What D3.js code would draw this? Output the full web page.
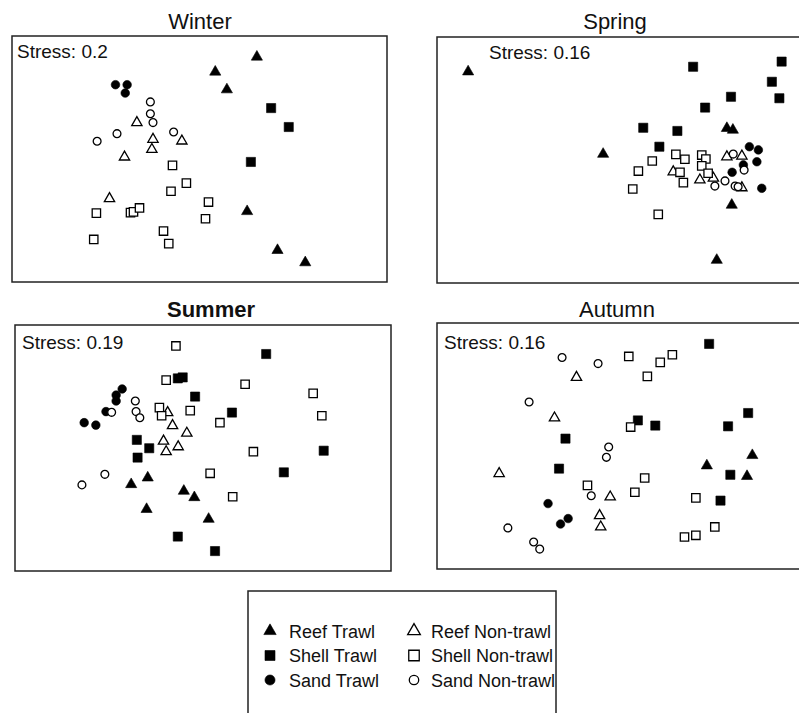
<!DOCTYPE html>
<html>
<head>
<meta charset="utf-8">
<script src="https://cdn.jsdelivr.net/npm/d3@7"></script>
<style>
  html, body { margin: 0; padding: 0; background: #fff; }
  svg { display: block; }
  text { font-family: "Liberation Sans", Arial, Helvetica, sans-serif; fill: #111; }
</style>
</head>
<body>
<svg id="chart" width="799" height="713"></svg>
<script>
// ---------------- DATA (NMDS coordinates, 0-100 scale per panel) ----------------
const groups = ["Reef Trawl", "Shell Trawl", "Sand Trawl", "Reef Non-trawl", "Shell Non-trawl", "Sand Non-trawl"];
const seasons = ["Winter", "Spring", "Summer", "Autumn"];
const stressValues = [0.2, 0.16, 0.19, 0.16];

// [groupIndex, x, y]
const winterPoints = [
  [0,65.3,91.5],[0,54.2,85.4],[0,57.3,78.2],[0,62.7,28.7],[0,70.8,12.9],[0,78.2,7.9],
  [1,69.1,70.7],[1,73.8,63.0],[1,63.7,48.8],
  [2,27.6,80.2],[2,30.7,80.2],[2,30.2,76.8],
  [3,33.3,64.8],[3,37.6,58.0],[3,37.3,53.9],[3,45.3,57.3],[3,30.0,50.8],[3,26.0,33.9],
  [4,42.8,47.4],[4,46.5,40.2],[4,42.4,36.9],[4,52.4,32.5],[4,51.6,25.7],[4,22.5,28.0],
  [4,31.6,28.2],[4,32.4,28.5],[4,34.0,30.1],[4,40.4,20.7],[4,41.8,15.6],[4,21.8,17.3],
  [5,36.9,73.2],[5,36.9,68.4],[5,37.6,64.8],[5,43.1,61.0],[5,28.0,60.3],[5,22.7,57.2]
];
const springPoints = [
  [0,8.3,85.9],[0,44.3,52.4],[0,77.3,62.9],[0,78.9,62.2],[0,78.6,31.7],[0,74.6,9.3],
  [1,68.3,87.9],[1,91.9,90.0],[1,89.3,81.8],[1,91.3,75.1],[1,78.4,75.7],[1,71.5,71.3],
  [1,55.0,63.1],[1,64.1,61.8],[1,59.3,55.4],
  [2,83.3,55.4],[2,85.7,54.1],[2,81.7,48.0],[2,85.3,49.3],[2,78.7,45.0],[2,86.6,38.5],
  [3,77.3,51.3],[3,81.3,51.6],[3,63.0,45.2],[3,70.1,41.9],[3,73.7,42.6],[3,81.3,38.7],
  [4,63.7,52.3],[4,66.1,50.3],[4,70.6,52.0],[4,71.7,50.4],[4,57.4,49.6],[4,70.6,47.6],
  [4,53.7,45.5],[4,64.8,45.0],[4,72.3,44.6],[4,65.7,40.8],[4,52.2,38.2],[4,59.0,27.9],
  [5,79.0,52.4],[5,81.9,45.9],[5,76.8,41.5],[5,74.1,39.4],[5,79.5,39.4],[5,80.3,39.1]
];
const summerPoints = [
  [0,30.9,35.2],[0,35.3,37.9],[0,44.9,32.5],[0,47.7,29.9],[0,35.0,25.1],[0,51.5,21.1],
  [1,66.8,88.2],[1,43.3,78.3],[1,44.6,78.7],[1,47.9,70.9],[1,57.7,64.4],[1,32.4,53.3],
  [1,35.7,49.9],[1,32.6,46.1],[1,82.1,48.9],[1,71.5,40.1],[1,43.3,14.0],[1,53.2,8.1],
  [2,28.5,74.0],[2,26.9,71.5],[2,26.9,69.1],[2,24.2,64.8],[2,18.4,60.3],[2,21.5,59.3],
  [3,40.6,64.4],[3,41.9,59.1],[3,45.7,56.0],[3,39.5,52.8],[3,43.4,50.5],[3,40.2,48.5],
  [4,42.8,91.5],[4,40.2,77.6],[4,61.2,75.9],[4,79.3,72.2],[4,81.6,63.1],[4,38.4,66.4],
  [4,39.0,63.1],[4,46.6,65.2],[4,54.5,60.3],[4,63.4,48.5],[4,51.9,39.7],[4,57.9,30.2],
  [5,32.0,69.1],[5,25.7,64.5],[5,32.2,64.8],[5,33.2,62.3],[5,23.9,39.3],[5,17.8,35.0]
];
const autumnPoints = [
  [0,71.2,42.0],[0,83.2,46.2],[0,81.8,37.7],
  [1,71.8,91.5],[1,82.1,63.4],[1,76.8,58.0],[1,53.0,60.4],[1,57.6,58.3],[1,33.9,53.0],
  [1,32.2,40.8],[1,77.4,38.3],[1,74.8,27.8],
  [2,29.3,26.6],[2,34.6,20.5],[2,32.6,18.3],
  [3,36.8,77.9],[3,31.0,61.4],[3,16.4,38.8],[3,45.7,29.3],[3,42.9,21.7],[3,43.2,17.1],
  [4,50.6,86.4],[4,58.9,84.0],[4,62.1,87.1],[4,55.5,78.3],[4,51.1,57.7],[4,54.8,37.0],
  [4,39.7,34.0],[4,52.2,31.2],[4,68.3,28.9],[4,73.3,17.1],[4,68.3,13.7],[4,65.3,13.0],
  [5,33.0,86.0],[5,42.5,83.5],[5,24.3,67.9],[5,45.3,49.6],[5,44.7,45.4],[5,40.7,29.8],
  [5,18.7,16.7],[5,25.5,11.0],[5,27.1,8.1]
];
const seasonPoints = [winterPoints, springPoints, summerPoints, autumnPoints];

// ---------------- LAYOUT ----------------
const panels = [
  {x0: 12,  x1: 387, y0: 36,  y1: 282, tx: 200, ty: 29,  sx: 17,  sy: 58,  bold: false},
  {x0: 437, x1: 812, y0: 37,  y1: 283, tx: 615, ty: 29,  sx: 489, sy: 59,  bold: false},
  {x0: 15,  x1: 391, y0: 325, y1: 571, tx: 211, ty: 317, sx: 22,  sy: 349, bold: true},
  {x0: 437, x1: 816, y0: 323, y1: 569, tx: 617, ty: 317, sx: 444, sy: 349, bold: false}
];

const symbolTypes = [d3.symbolTriangle, d3.symbolSquare, d3.symbolCircle, d3.symbolTriangle, d3.symbolSquare, d3.symbolCircle];
const symbolSizes = [54, 84, 58, 46, 70, 48];
const legendSizes = [66, 100, 80, 70, 110, 70];
const filled = [true, true, true, false, false, false];

const svg = d3.select("#chart");

function drawMarker(sel, gi, size) {
  sel.attr("d", d3.symbol().type(symbolTypes[gi]).size(size)())
     .attr("fill", filled[gi] ? "#000" : "#fff")
     .attr("stroke", "#000")
     .attr("stroke-width", filled[gi] ? 0.6 : 1.3);
}

panels.forEach((p, i) => {
  const g = svg.append("g");
  const x = d3.scaleLinear().domain([0, 100]).range([p.x0, p.x1]);
  const y = d3.scaleLinear().domain([0, 100]).range([p.y1, p.y0]);

  g.append("rect")
    .attr("x", p.x0).attr("y", p.y0)
    .attr("width", p.x1 - p.x0).attr("height", p.y1 - p.y0)
    .attr("fill", "none").attr("stroke", "#222").attr("stroke-width", 1.5);

  g.append("text")
    .attr("x", p.tx).attr("y", p.ty)
    .attr("text-anchor", "middle")
    .style("font-size", "22px")
    .style("font-weight", p.bold ? "bold" : "normal")
    .text(seasons[i]);

  g.append("text")
    .attr("x", p.sx).attr("y", p.sy)
    .style("font-size", "19px")
    .text("Stress: " + stressValues[i]);

  g.selectAll("path.pt")
    .data(seasonPoints[i])
    .join("path")
    .attr("class", "pt")
    .attr("transform", d => `translate(${x(d[1])},${y(d[2])})`)
    .each(function(d) { drawMarker(d3.select(this), d[0], symbolSizes[d[0]]); });
});

// ---------------- LEGEND ----------------
const legend = svg.append("g");
legend.append("rect")
  .attr("x", 248).attr("y", 591).attr("width", 308).attr("height", 140)
  .attr("fill", "none").attr("stroke", "#222").attr("stroke-width", 1.5);

const legendOrder = [0, 3, 1, 4, 2, 5];
legendOrder.forEach((gi, k) => {
  const col = k % 2, row = Math.floor(k / 2);
  const mx = col === 0 ? 270 : 414;
  const tx = col === 0 ? 289 : 431;
  const cy = 631 + row * 24.5;
  legend.append("path")
    .attr("transform", `translate(${mx},${cy})`)
    .call(s => drawMarker(s, gi, legendSizes[gi]));
  legend.append("text")
    .attr("x", tx).attr("y", cy + 6.5)
    .style("font-size", "18px")
    .text(groups[gi]);
});
</script>
</body>
</html>
